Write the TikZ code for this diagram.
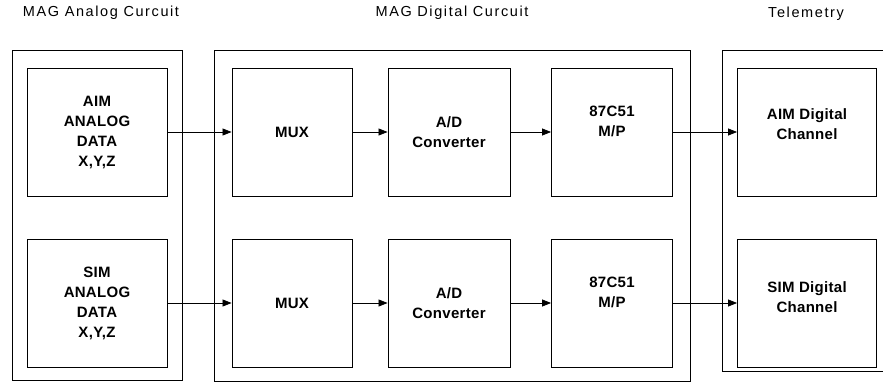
\documentclass[tikz,border=0pt]{standalone}
\usepackage{fontspec}
\setmainfont{Liberation Sans}
\usetikzlibrary{arrows.meta,positioning}

\begin{document}
\begin{tikzpicture}[x=1pt,y=-1pt,>={Triangle[length=9pt,width=7pt]},
  blk/.style={draw,line width=0.9pt,minimum width=#1,minimum height=128pt,
    inner sep=0pt,align=center,
    font=\fontsize{15}{20}\selectfont\bfseries\addfontfeature{LetterSpace=2}},
  blk/.default=121pt,
  grp/.style={line width=0.9pt},
  ttl/.style={font=\fontsize{14.5}{17}\selectfont\addfontfeature{LetterSpace=11}},
  link/.style={->,line width=0.8pt}]
\useasboundingbox (0,0) rectangle (883,383);
% group frames
\draw[grp] (12,50) rectangle (182,380);
\draw[grp] (214,50) rectangle (690,381);
\draw[grp] (883,50) -- (722,50) -- (722,371) -- (883,371);
\node[ttl] (tA) at (101,13) {MAG Analog Curcuit};
\node[ttl] (tD) at (452,13) {MAG Digital Curcuit};
\node[ttl] (tT) at (806,14) {Telemetry};
% upper chain
\node[blk=140pt] (AIMa) at (97,132) {AIM\\ANALOG\\DATA\\X,Y,Z};
\node[blk=120pt] (MUX1) at (292,132) {MUX};
\node[blk=122pt] (AD1) at (449,132) {A/D\\Converter};
\node[blk,text depth=22pt] (MP1) at (612,132) {87C51\\M/P};
\node[blk=139pt,text depth=16pt] (AIMd) at (807,132) {AIM Digital\\Channel};
% lower chain
\node[blk=140pt] (SIMa) at (97,303) {SIM\\ANALOG\\DATA\\X,Y,Z};
\node[blk=120pt] (MUX2) at (292,303) {MUX};
\node[blk=122pt] (AD2) at (449,303) {A/D\\Converter};
\node[blk,text depth=22pt] (MP2) at (612,303) {87C51\\M/P};
\node[blk=139pt,text depth=11pt] (SIMd) at (807,303) {SIM Digital\\Channel};
\draw[link] (AIMa) -- (MUX1);
\draw[link] (MUX1) -- (AD1);
\draw[link] (AD1) -- (MP1);
\draw[link] (MP1) -- (AIMd);
\draw[link] (SIMa) -- (MUX2);
\draw[link] (MUX2) -- (AD2);
\draw[link] (AD2) -- (MP2);
\draw[link] (MP2) -- (SIMd);
\end{tikzpicture}
\end{document}
